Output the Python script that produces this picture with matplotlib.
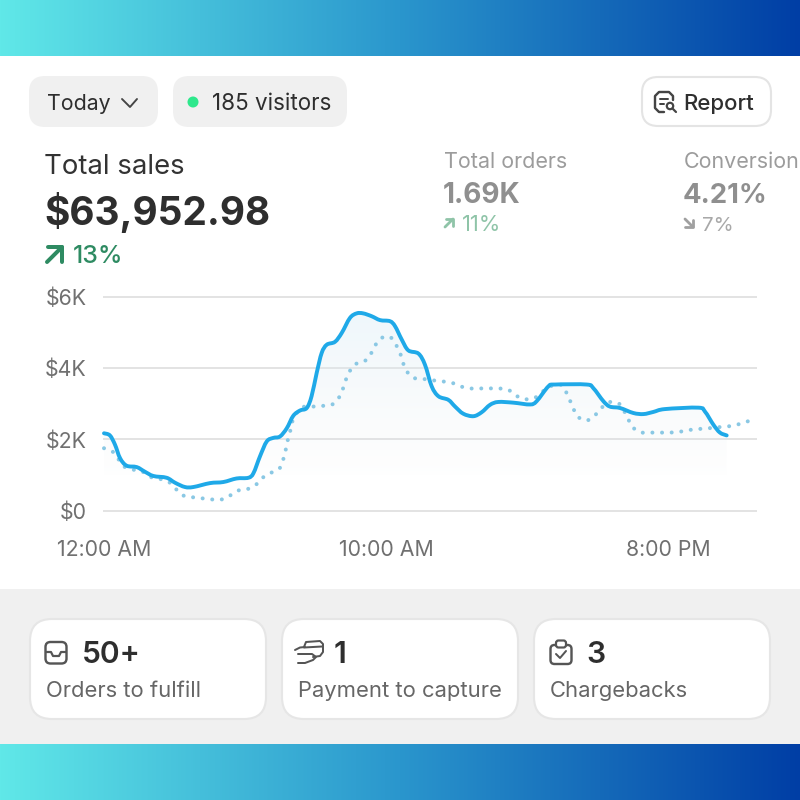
import numpy as np
import matplotlib
matplotlib.use("Agg")
import matplotlib.pyplot as plt
from matplotlib.patches import FancyBboxPatch, Circle, Rectangle, PathPatch
from matplotlib.path import Path

plt.rcParams['font.family'] = ['Inter', 'DejaVu Sans']

# sales today, hours after midnight and $K
today_hours = [0, .21, .39, .57, .80, 1.16, 1.45, 1.75, 2.22, 2.52, 2.87, 3.17, 3.76, 4.23, 4.70, 5.12,
               5.30, 5.53, 5.77, 6.00, 6.24, 6.48, 6.71, 6.95, 7.19, 7.36, 7.54, 7.72, 7.90, 8.19, 8.43,
               8.72, 8.96, 9.19, 9.49, 9.79, 10.14, 10.32, 10.56, 10.79, 11.15, 11.38, 11.62, 11.86,
               12.21, 12.45, 12.74, 13.10, 13.39, 13.69, 13.98, 14.52, 15.11, 15.34, 15.76, 16.00,
               17.12, 17.35, 17.71, 17.94, 18.30, 18.77, 19.13, 19.48, 19.89, 21.08, 21.31, 21.61,
               21.84, 22.08]
today_sales = [2.17, 2.11, 1.85, 1.47, 1.26, 1.22, 1.09, .97, .92, .78, .66, .66, .77, .80, .90, .92,
               1.05, 1.52, 1.94, 2.04, 2.08, 2.31, 2.66, 2.81, 2.88, 3.21, 3.86, 4.43, 4.66, 4.74, 4.99,
               5.41, 5.54, 5.54, 5.46, 5.35, 5.32, 5.18, 4.80, 4.50, 4.41, 4.10, 3.49, 3.21,
               3.11, 2.92, 2.72, 2.65, 2.76, 2.97, 3.05, 3.03, 2.98, 3.07, 3.49, 3.54,
               3.54, 3.44, 3.07, 2.92, 2.88, 2.74, 2.71, 2.77, 2.85, 2.89, 2.78, 2.41,
               2.19, 2.11]

# previous period (dotted)
prev_hours = [0, .33, .53, .74, 1.08, 1.39, 1.69, 2.02, 2.34, 2.58, 2.84, 3.17, 3.50, 3.84, 4.17, 4.49,
              4.79, 5.12, 5.41, 5.64, 5.95, 6.22, 6.35, 6.44, 6.51, 6.60, 6.67, 6.83, 7.07, 7.40, 7.73,
              8.07, 8.32, 8.46, 8.57, 8.71, 8.91, 9.23, 9.46, 9.61, 9.82, 10.14, 10.35, 10.50, 10.60,
              10.73, 10.97, 11.30, 11.64, 11.97, 12.33, 12.64, 12.97, 13.31, 13.65, 14.00, 14.34, 14.61,
              14.92, 15.26, 15.52, 15.76, 16.05, 16.23, 16.36, 16.51, 16.64, 16.81, 17.12, 17.40, 17.64,
              17.88, 18.23, 18.42, 18.58, 18.75, 19.03, 19.37, 19.71, 20.06, 20.40, 20.73, 21.08, 21.43,
              21.76, 22.10, 22.44, 22.77, 22.95]
prev_sales = [1.75, 1.64, 1.42, 1.22, 1.14, 1.08, .93, .88, .78, .58, .41, .37, .34, .31, .31, .43,
              .57, .61, .74, .93, 1.07, 1.18, 1.42, 1.69, 1.96, 2.22, 2.48, 2.74, 2.91, 2.92, 2.94,
              2.97, 3.16, 3.39, 3.66, 3.91, 4.11, 4.19, 4.40, 4.63, 4.84, 4.88, 4.66, 4.43, 4.16,
              3.92, 3.73, 3.70, 3.66, 3.63, 3.59, 3.49, 3.43, 3.43, 3.43, 3.43, 3.39, 3.23,
              3.13, 3.16, 3.32, 3.47, 3.53, 3.52, 3.37, 3.12, 2.87, 2.63, 2.53, 2.67, 2.88,
              3.04, 3.02, 2.83, 2.58, 2.34, 2.20, 2.19, 2.19, 2.19, 2.21, 2.26, 2.29, 2.31,
              2.34, 2.36, 2.41, 2.49, 2.54]

y_ticks = [0, 2, 4, 6]
y_labels = ['$0', '$2K', '$4K', '$6K']
x_ticks = [0, 10, 20]
x_labels = ['12:00 AM', '10:00 AM', '8:00 PM']

DARK = '#2e2e2e'
ICON = '#555555'

fig = plt.figure(figsize=(8, 8), dpi=100)

# whole figure in pixels, y going down, for the page around the chart
ui = fig.add_axes([0, 0, 1, 1])
ui.set_xlim(0, 800)
ui.set_ylim(800, 0)
ui.axis('off')


def px(size):
    return size * 0.72


def label(x, y, s, size, color=DARK, weight='normal', ha='left'):
    ui.text(x, y, s, fontsize=px(size), color=color, fontweight=weight, ha=ha, va='baseline')


def box(x0, y0, x1, y1, r, face, edge='none', lw=1.5):
    ui.add_patch(FancyBboxPatch((x0, y0), x1 - x0, y1 - y0, boxstyle=f'round,pad=0,rounding_size={r}',
                                facecolor=face, edgecolor=edge, linewidth=lw))


def stroke(xs, ys, color=ICON, lw=2.2):
    ui.plot(xs, ys, color=color, lw=px(lw), solid_capstyle='round', solid_joinstyle='round')


def smooth_path(xs, ys):
    # bezier curve through the read values, so the line bends like the original
    p = np.column_stack([xs, ys])
    verts = [p[0]]
    codes = [Path.MOVETO]
    for i in range(len(p) - 1):
        before = p[max(i - 1, 0)]
        after = p[min(i + 2, len(p) - 1)]
        verts += [p[i] + (p[i + 1] - before) / 6, p[i + 1] - (after - p[i]) / 6, p[i + 1]]
        codes += [Path.CURVE4, Path.CURVE4, Path.CURVE4]
    return Path(verts, codes)


# gradient bands top and bottom
ramp = np.linspace(0, 2, 800)
band = [[96, 42, 0], [232, 150, 62], [232, 205, 165]]
band_img = np.stack([np.interp(ramp, [0, 1, 2], c) for c in band], axis=-1)[None, :, :] / 255
ui.imshow(band_img, extent=(0, 800, 56, 0), aspect='auto', zorder=1)
ui.imshow(band_img, extent=(0, 800, 800, 744), aspect='auto', zorder=1)
ui.set_xlim(0, 800)
ui.set_ylim(800, 0)
ui.add_patch(Rectangle((0, 589), 800, 155, facecolor='#f0f0f0', edgecolor='none'))

# top row
box(29, 76, 158, 127, 16, '#f0f0f0')
box(173, 76, 347, 127, 16, '#f0f0f0')
box(642, 77, 771, 126, 16, 'white', '#e4e4e4', 1.5)
label(47.5, 110, 'Today', 21.3)
stroke([122, 130, 137], [99, 107, 99], '#444444', 1.9)
ui.add_patch(Circle((193, 102), 5.5, facecolor='#2ee88c', edgecolor='none'))
label(212, 110, '185 visitors', 22.4)
label(683, 110, 'Report', 22.2, '#2e2e2e', 'medium')
# report icon
stroke([673, 673, 669, 659, 655, 655, 659, 664], [100, 96, 92, 92, 96, 108, 112, 112], '#444444', 2.4)
stroke([660, 668], [98.5, 98.5], '#444444', 2)
stroke([660, 664], [103.5, 103.5], '#444444', 2)
ui.add_patch(Circle((670, 106), 3.2, facecolor='white', edgecolor='#444444', linewidth=px(2.2)))
stroke([673, 676], [109, 112], '#444444', 2.2)

# headline numbers
label(44, 174, 'Total sales', 27.5, '#333333')
label(44, 225, '$63,952.98', 38.8, DARK, 'bold')
stroke([47, 62], [262, 247], '#2e8b62', 4)
stroke([48, 62, 62], [247, 247, 262], '#2e8b62', 4)
label(73, 263, '13%', 24.8, '#2e8b62', 'medium')

label(444, 168, 'Total orders', 21.5, '#9c9c9c')
label(443, 203, '1.69K', 28, '#8f8f8f', 'bold')
stroke([445, 453], [227, 219], '#8fc4a8', 2.8)
stroke([446, 453, 453], [219, 219, 226], '#8fc4a8', 2.8)
label(462, 231, '11%', 22, '#8fc4a8')

label(684, 168, 'Conversion', 21.5, '#9c9c9c')
label(683, 203, '4.21%', 27.5, '#8f8f8f', 'bold')
stroke([685, 693], [219, 227], '#a0a0a0', 2.8)
stroke([685, 693, 693], [227, 227, 220], '#a0a0a0', 2.8)
label(702, 231, '7%', 20.5, '#a8a8a8')

# bottom cards
box(30, 619, 266, 719, 22, 'white', '#e6e6e6')
box(282, 619, 518, 719, 22, 'white', '#e6e6e6')
box(534, 619, 770, 719, 22, 'white', '#e6e6e6')
label(82, 663, '50+', 30, DARK, 'semibold')
label(334, 663, '1', 30, DARK, 'semibold')
label(586, 663, '3', 30, DARK, 'semibold')
label(46, 697, 'Orders to fulfill', 22, '#666666')
label(298, 697, 'Payment to capture', 22, '#666666')
label(550, 697, 'Chargebacks', 22, '#666666')

# inbox icon
box(45.5, 642, 66.5, 663.5, 5, 'white', ICON, px(2.4))
stroke([46, 51, 53, 59, 61, 66], [652, 652, 656, 656, 652, 652])
# hand with card icon
stroke([304, 306, 320, 323, 323, 320, 313], [647, 642, 641, 644, 652, 656, 657], ICON, 2)
stroke([304, 322], [647.5, 646.5], ICON, 2)
stroke([295, 300, 305], [650, 647.5, 647], ICON, 2)
stroke([298, 312, 316, 313, 305, 298], [654, 654, 657, 660, 663, 663], ICON, 2)
# clipboard icon
box(550.5, 645, 571.5, 664, 4, 'white', ICON, px(2.4))
box(556, 640.5, 566, 647.5, 2.5, 'white', ICON, px(2.2))
stroke([556, 560, 566], [654, 658, 651], ICON, 2)

# the chart itself, 0..23.12 h over 652 px and 0..6K over 213.5 px
ax = fig.add_axes([104 / 800, (800 - 510.5) / 800, 652 / 800, 213.5 / 800])
ax.patch.set_alpha(0)
for s in ax.spines.values():
    s.set_visible(False)
ax.set_xticks(x_ticks)
ax.set_xticklabels(x_labels)
ax.set_yticks(y_ticks)
ax.set_yticklabels(y_labels)
ax.tick_params(axis='both', length=0, labelsize=px(21.3), labelcolor='#707070')
ax.tick_params(axis='x', pad=px(29))
ax.tick_params(axis='y', pad=px(17))
ax.grid(axis='y', color='#e3e3e3', lw=px(2))
ax.set_axisbelow(True)
for g in ax.get_ygridlines():
    g.set_clip_on(False)

# soft fill under the solid line, gone by about $1K
today_curve = smooth_path(today_hours, today_sales)
area = Path(list(today_curve.vertices) + [(today_hours[-1], 0), (0, 0), (0, today_sales[0])],
            list(today_curve.codes) + [Path.LINETO, Path.LINETO, Path.LINETO])
shade = np.ones((256, 2, 4))
shade[:, :, 0] = np.linspace(0.85, 0.90, 256)[:, None]
shade[:, :, 1] = np.linspace(0.93, 0.91, 256)[:, None]
shade[:, :, 2] = np.linspace(0.97, 0.92, 256)[:, None]
shade[:, :, 3] = np.linspace(0.42, 0.03, 256)[:, None]
img = ax.imshow(shade, extent=(0, 22.08, 1.0, 5.54), origin='upper', aspect='auto', zorder=1)
img.set_clip_path(area, transform=ax.transData)

ax.add_patch(PathPatch(smooth_path(prev_hours, prev_sales), facecolor='none', edgecolor='#8ac8e4', lw=px(4),
                       linestyle=(0, (0.01, 2.4)), capstyle='round', zorder=2, clip_on=False))
ax.add_patch(PathPatch(today_curve, facecolor='none', edgecolor='#1fa9e8', lw=px(3.9), capstyle='round',
                       joinstyle='round', zorder=3, clip_on=False))
ax.set_xlim(0, 23.12)
ax.set_ylim(0, 6)

fig.savefig('out.png', dpi=100)
